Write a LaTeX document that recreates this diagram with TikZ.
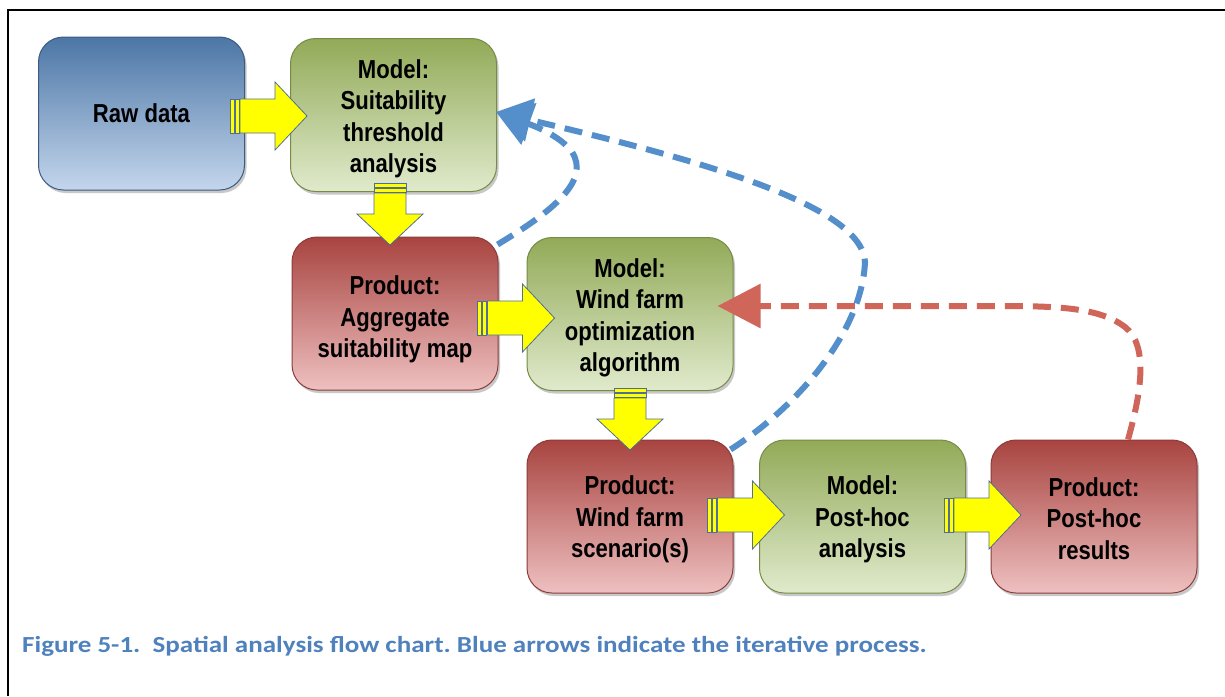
\documentclass[tikz,border=0pt]{standalone}
\usepackage{fontspec}
\newfontfamily\boxfont[FakeStretch=0.85]{Liberation Sans Bold}
\newfontfamily\capfont[FakeStretch=1.175]{Carlito Bold}
\usetikzlibrary{arrows.meta,shadows,calc}
\definecolor{bluetop}{RGB}{76,118,166}
\definecolor{bluebot}{RGB}{196,214,236}
\definecolor{blueedge}{RGB}{60,90,130}
\definecolor{greentop}{RGB}{146,170,88}
\definecolor{greenbot}{RGB}{224,234,204}
\definecolor{greenedge}{RGB}{118,140,70}
\definecolor{redtop}{RGB}{168,68,64}
\definecolor{redbot}{RGB}{238,192,192}
\definecolor{rededge}{RGB}{140,60,58}
\definecolor{dblue}{RGB}{84,143,204}
\definecolor{dred}{RGB}{208,102,90}
\definecolor{capblue}{RGB}{79,129,189}
\definecolor{arredge}{RGB}{80,110,150}
\definecolor{arrfill}{RGB}{255,255,0}
\newcommand\boxtext[2]{\raisebox{#1}[\height][\depth]{\parbox{200pt}{\centering #2}}}
\tikzset{
  box/.style={rounded corners=25pt, minimum width=206pt, minimum height=153pt,
    align=center, line width=1pt, inner sep=0pt,
    font=\boxfont\fontsize{26}{31.5}\selectfont,
    drop shadow={shadow xshift=2pt, shadow yshift=-3pt, opacity=0.3, fill=black!70}},
  bluebox/.style={box, draw=blueedge, top color=bluetop, bottom color=bluebot},
  greenbox/.style={box, draw=greenedge, top color=greentop, bottom color=greenbot},
  redbox/.style={box, draw=rededge, top color=redtop, bottom color=redbot},
  arrline/.style={draw=arredge, line width=0.8pt, fill=arrfill, line join=miter},
  bluedash/.style={draw=dblue, line width=6pt, dash pattern=on 18pt off 10pt,
    -{Triangle[length=35pt,width=43pt]}},
  reddash/.style={draw=dred, line width=6pt, dash pattern=on 18pt off 10pt,
    -{Triangle[length=43pt,width=43pt]}},
  rarr/.pic={
    \draw[arrline] (0,-17) rectangle (4,17);
    \draw[arrline] (5,-17) rectangle (9,17);
    \draw[arrline] (10,-17) -- (45,-17) -- (45,-34) -- (77,0) -- (45,34) -- (45,17) -- (10,17) -- cycle;
  },
  darr/.pic={
    \draw[arrline] (-16,0) rectangle (16,4);
    \draw[arrline] (-16,5) rectangle (16,9);
    \draw[arrline] (-16,10) -- (-16,31) -- (-33,31) -- (0,62) -- (33,31) -- (16,31) -- (16,10) -- cycle;
  }
}
\begin{document}
\frenchspacing
\begin{tikzpicture}[x=1pt,y=-1pt]
\useasboundingbox (0,0) rectangle (1225,696);
\fill[white] (0,0) rectangle (1225,696);
\draw[line width=2pt] (8,696) -- (8,10) -- (1225,10);

% boxes
\node[bluebox]  (raw) at (141.5,113.5) {Raw data};
\node[greenbox] (m1)  at (393.5,115)   {\boxtext{-4pt}{Model:\\Suitability\\threshold\\analysis}};
\node[redbox]   (p1)  at (395,313.5)   {\boxtext{-6pt}{Product:\\Aggregate\\suitability map}};
\node[greenbox] (m2)  at (630,314)     {\boxtext{-4pt}{Model:\\Wind farm\\optimization\\algorithm}};
\node[redbox]   (p2)  at (630,516.5)   {\boxtext{-3pt}{Product:\\Wind farm\\scenario(s)}};
\node[greenbox] (m3)  at (862.5,516.5) {\boxtext{-3pt}{Model:\\Post-hoc\\analysis}};
\node[redbox]   (p3)  at (1094,516.5)  {\boxtext{-2pt}{Product:\\Post-hoc\\results}};

% yellow block arrows
\pic at ($(raw.east)+(-15,2.5)$) {rarr};
\pic at ($(p1.east)+(-21,4.5)$) {rarr};
\pic at ($(p2.east)+(-26,-1.5)$) {rarr};
\pic at ($(m3.east)+(-22,-1.5)$) {rarr};
\pic at ($(m1.south)+(-3.5,-9)$) {darr};
\pic at ($(m2.south)+(0,-3)$) {darr};

% red feedback arrow
\coordinate (rtip) at ($(m2.east)+(-16,-8)$);
\coordinate (rstart) at ($(p3.north)+(34,0)$);
\draw[reddash] (rstart) .. controls (1142,390) and (1148,345) .. (1125,327)
  .. controls (1100,308) and (1060,306) .. (1000,306) -- (rtip);

% blue iterative arrows
\coordinate (btip) at ($(m1.east)+(-1,-3)$);
\draw[bluedash] ($(p1.north east)+(-1,8)$) .. controls (555,210) and (590,180) .. (572,152)
  .. controls (562,138) and (540,128) .. (btip);
\draw[bluedash] ($(p2.north east)+(-3,10)$) .. controls (800,405) and (862,330) .. (865,262)
  .. controls (862,205) and (700,160) .. (btip);

% caption
\node[anchor=base west, inner sep=0pt, text=capblue,
  font=\capfont\fontsize{23}{27}\selectfont] (cap) at (22,652)
  {Figure 5-1.\ \ Spatial analysis flow chart. Blue arrows indicate the iterative process.};
\end{tikzpicture}
\end{document}
